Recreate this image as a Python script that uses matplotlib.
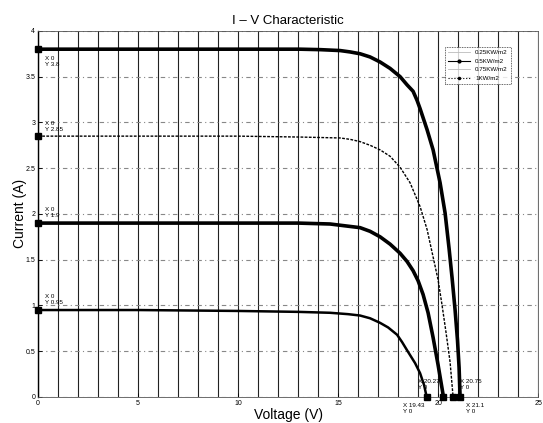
import matplotlib
matplotlib.use("Agg")
import matplotlib.pyplot as plt
from matplotlib.lines import Line2D

plt.rcParams['font.family'] = ['Liberation Sans', 'DejaVu Sans']

# 1 kW/m2
v_1000 = [0, 5, 10, 13.1, 14.1, 15.1, 15.6, 16.1, 16.6, 17.1, 17.6, 18.1, 18.45, 18.75, 18.95, 19.1,
          19.45, 19.75, 20.1, 20.35, 20.55, 20.7, 20.85, 20.97, 21.05, 21.1]
i_1000 = [3.8, 3.8, 3.8, 3.8, 3.795, 3.785, 3.77, 3.75, 3.715, 3.66, 3.59, 3.50, 3.41, 3.34, 3.24, 3.15,
          2.92, 2.70, 2.34, 2.01, 1.62, 1.30, 0.95, 0.62, 0.32, 0.0]
# 0.75 kW/m2
v_750 = [0, 5, 10, 13.1, 15.1, 15.6, 16.1, 16.6, 17.1, 17.6, 18.1, 18.6, 19.1, 19.45, 19.75,
         20.0, 20.2, 20.4, 20.6, 20.75]
i_750 = [2.85, 2.85, 2.85, 2.84, 2.83, 2.815, 2.79, 2.75, 2.70, 2.63, 2.51, 2.34, 2.08, 1.83, 1.53,
         1.28, 1.0, 0.7, 0.38, 0.0]
# 0.5 kW/m2
v_500 = [0, 5, 10, 13, 14.6, 15.35, 16.1, 16.6, 17.1, 17.6, 18.1, 18.45, 18.75, 19.0, 19.25,
         19.5, 19.75, 20.0, 20.27]
i_500 = [1.9, 1.9, 1.9, 1.9, 1.89, 1.87, 1.85, 1.81, 1.75, 1.67, 1.57, 1.48, 1.38, 1.27, 1.12,
         0.92, 0.65, 0.35, 0.0]
# 0.25 kW/m2
v_250 = [0, 5, 10, 13, 14.6, 15.5, 16.1, 16.6, 17.1, 17.5, 17.95, 18.2, 18.45, 18.65, 18.85,
         19.1, 19.3, 19.43]
i_250 = [0.95, 0.95, 0.94, 0.93, 0.92, 0.905, 0.89, 0.86, 0.81, 0.76, 0.68, 0.60, 0.51, 0.44, 0.37,
         0.26, 0.13, 0.0]

legend_labels = ['0.25KW/m2', '0.5KW/m2', '0.75KW/m2', '1KW/m2']

tip_x = [0, 0, 0, 0, 19.43, 20.27, 20.75, 21.1]
tip_y = [3.8, 2.85, 1.9, 0.95, 0, 0, 0, 0]
tip_offsets = [(7, -7, 'top'), (7, 4, 'bottom'), (7, 5, 'bottom'), (7, 5, 'bottom'),
               (-24, -6, 'top'), (-25, 7, 'bottom'), (7, 7, 'bottom'), (6, -6, 'top')]

x_ticks = [0, 5, 10, 15, 20, 25]
y_ticks = [0, 0.5, 1, 1.5, 2, 2.5, 3, 3.5, 4]

fig = plt.figure(figsize=(5.43, 4.23), dpi=100)
ax = fig.add_axes([0.07, 0.0615, 0.921, 0.8655])
ax.set_xlim(0, 25)
ax.set_ylim(0, 4)

# grid
for xv in range(0, 26):
    ax.axvline(xv, color='#222222', lw=0.8, zorder=1)
for yv in y_ticks:
    ax.axhline(yv, color='#888888', lw=0.8, ls=(0, (4, 3, 1, 3)), zorder=1)

ax.plot(v_1000, i_1000, color='black', lw=2.6, zorder=3, solid_joinstyle='round')
ax.plot(v_750, i_750, color='black', lw=1.0, ls=(0, (2, 1)), zorder=3)
ax.plot(v_500, i_500, color='black', lw=2.6, zorder=3, solid_joinstyle='round')
ax.plot(v_250, i_250, color='black', lw=1.8, zorder=3, solid_joinstyle='round')

ax.plot(tip_x, tip_y, ls='none', marker='s', ms=4.5, color='black', zorder=5, clip_on=False)
for x, y, (dx, dy, va) in zip(tip_x, tip_y, tip_offsets):
    ax.annotate(f"X {x:g}\nY {y:g}", xy=(x, y), xytext=(dx, dy), textcoords='offset pixels',
                fontsize=4.5, va=va, ha='left', linespacing=1.2, annotation_clip=False, zorder=6)

ax.set_xticks(x_ticks)
ax.set_yticks(y_ticks)
ax.set_xticklabels([f"{t:g}" for t in x_ticks], fontsize=5)
ax.set_yticklabels([f"{t:g}" for t in y_ticks], fontsize=5)
ax.tick_params(direction='in', length=3, width=0.6, pad=2)
for s in ax.spines.values():
    s.set_linewidth(0.6)
    s.set_color('#555555')
ax.spines['left'].set_color('black')
ax.spines['left'].set_linewidth(1.0)

ax.set_title('I – V Characteristic', fontsize=9.5, pad=5)
ax.set_xlabel('Voltage (V)', fontsize=10, labelpad=1)
ax.set_ylabel('Current (A)', fontsize=10, labelpad=-1)

handles = [Line2D([], [], color='#bbbbbb', lw=0.6),
           Line2D([], [], color='black', lw=0.8, marker='.', ms=4),
           Line2D([], [], color='#bbbbbb', lw=0.6),
           Line2D([], [], color='black', lw=0.8, ls=':', marker='.', ms=3)]
leg = ax.legend(handles, legend_labels, loc='upper right', bbox_to_anchor=(0.952, 0.965),
                fontsize=4.5, frameon=True, fancybox=False, handlelength=3.5,
                borderpad=0.5, labelspacing=0.5, handletextpad=0.8)
leg.get_frame().set_edgecolor('black')
leg.get_frame().set_linewidth(0.6)
leg.get_frame().set_linestyle((0, (1, 1)))
leg.set_zorder(10)

fig.savefig('out.png', dpi=100)
